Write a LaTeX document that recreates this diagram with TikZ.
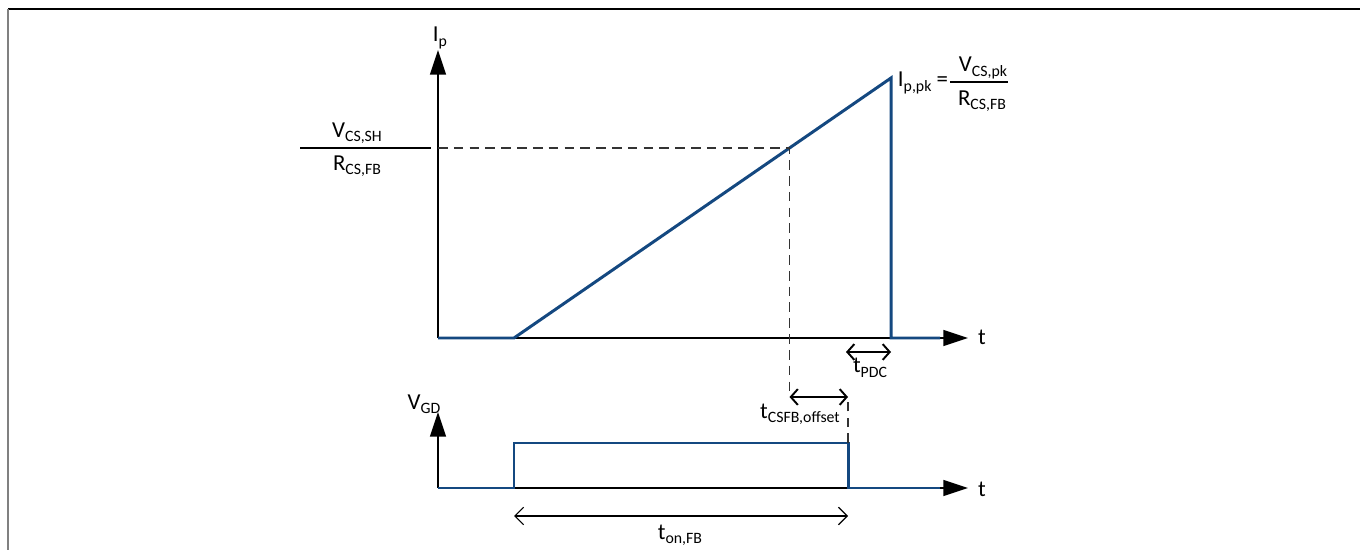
\documentclass[tikz,border=0pt]{standalone}
\usepackage{fontspec}
\setmainfont{Carlito}
\usetikzlibrary{arrows.meta,calc}
\definecolor{sigblue}{RGB}{20,72,128}
\newcommand{\lo}[1]{\raisebox{-2.5pt}{\fontsize{9}{10}\selectfont #1}}

\tikzset{
  axis/.style={line width=1.1pt, -{Triangle[length=14pt,width=9pt]}},
  signal/.style={sigblue, line width=1.7pt},
  guide/.style={line width=0.6pt, black!80, dash pattern=on 5.5pt off 3.5pt},
  span/.style={line width=1.1pt, {Straight Barb[length=4pt,width=9pt]}-{Straight Barb[length=4pt,width=9pt]}},
  longspan/.style={line width=0.7pt, {Straight Barb[length=5pt,width=10pt]}-{Straight Barb[length=5pt,width=10pt]}},
  lbl/.style={inner sep=0pt, font=\fontsize{13}{15}\selectfont}
}

\begin{document}
\begin{tikzpicture}[x=0.02cm,y=-0.02cm]
  \useasboundingbox (0,0) rectangle (1360,550);
  % frame
  \draw[line width=1pt] (8,9) -- (1360,9);
  \draw[gray, line width=1.5pt] (8,9) -- (8,550);

  % primary current
  \coordinate (O1) at (438,338);
  \coordinate (Y1) at (438,50);
  \coordinate (X1) at (968,338);
  \coordinate (rise1) at (514,338);
  \coordinate (peak) at (891,78);
  \coordinate (drop) at (891,338);
  \coordinate (end1) at (940,338);
  \coordinate (sh) at ($(rise1)!0.7308!(peak)$);
  \draw[axis] (O1) -- (Y1);
  \draw[axis] (O1) -- (X1);
  \draw[signal] (O1) -- (rise1) -- (peak) -- (drop) -- (end1);
  \node[lbl] (lblIp) at (440,38) {I\lo{p}};
  \node[lbl] (lblT1) at (982,337) {t};

  % threshold
  \coordinate (csfbL) at ($(sh |- 0,397)$);
  \draw[guide] (O1 |- sh) -- (sh) -- (csfbL);
  \coordinate (barL) at (300,148);
  \coordinate (barR) at (431,148);
  \draw[line width=0.9pt] (barL) -- (barR);
  \node[lbl] (numSH) at (357,133) {V\lo{CS,SH}};
  \node[lbl] (denSH) at (357,166) {R\lo{CS,FB}};

  % peak value
  \node[lbl] (lblPk) at (923,83) {I\lo{p,pk} =};
  \coordinate (pkL) at (950,82);
  \coordinate (pkR) at (1008,82);
  \draw[line width=0.9pt] (pkL) -- (pkR);
  \node[lbl] (numPk) at (983,68) {V\lo{CS,pk}};
  \node[lbl] (denPk) at (982,101) {R\lo{CS,FB}};

  % gate drive
  \coordinate (O2) at (438,488);
  \coordinate (Y2) at (438,412);
  \coordinate (X2) at (968,488);
  \coordinate (on) at (514,488);
  \coordinate (onTop) at (514,443);
  \coordinate (offTop) at (848,443);
  \coordinate (off) at (848,488);
  \coordinate (end2) at (940,488);
  \draw[axis] (O2) -- (Y2);
  \draw[axis] (O2) -- (X2);
  \draw[signal] (O2) -- (on) -- (onTop) -- (offTop) -- (off) -- (end2);
  \node[lbl] (lblVgd) at (424,404) {V\lo{GD}};
  \node[lbl] (lblT2) at (982,489) {t};

  % delays
  \coordinate (csfbR) at (off |- csfbL);
  \draw[guide] (offTop) -- (csfbR);
  \draw[span] (csfbL) -- (csfbR);
  \node[lbl] (lblCsfb) at (800,414) {t\lo{CSFB,offset}};
  \coordinate (pdcL) at (846,352);
  \coordinate (pdcR) at (drop |- pdcL);
  \draw[span] (pdcL) -- (pdcR);
  \node[lbl] (lblPdc) at (870,368) {t\lo{PDC}};
  \coordinate (tonL) at (514,516);
  \coordinate (tonR) at (off |- tonL);
  \draw[longspan] (tonL) -- (tonR);
  \node[lbl] (lblTon) at (680,535) {t\lo{on,FB}};
\end{tikzpicture}
\end{document}
